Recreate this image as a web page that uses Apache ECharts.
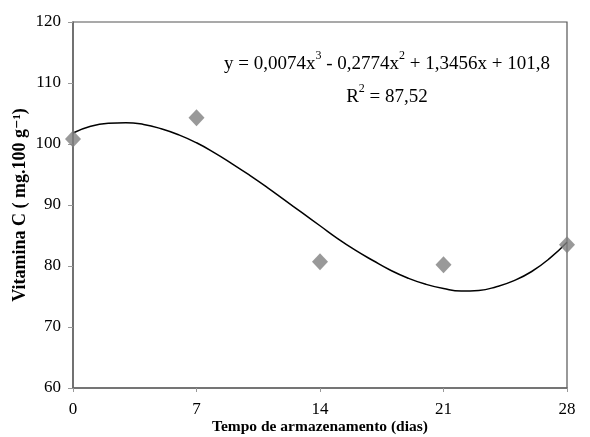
<!DOCTYPE html>
<html>
<head>
<meta charset="utf-8">
<script src="https://cdn.jsdelivr.net/npm/echarts@6/dist/echarts.min.js"></script>
<style>
  html, body { margin: 0; padding: 0; background: #fff; }
  #chart { width: 590px; height: 437px; }
</style>
</head>
<body>
<div id="chart"></div>
<script>
// observed points
const days = [0, 7, 14, 21, 28];
const vitaminC = [100.8, 104.3, 80.7, 80.2, 83.5];

// fitted curve, one value per day
const curveDays = [0, 1, 2, 3, 4, 5, 6, 7, 8, 9, 10, 11, 12, 13, 14, 15, 16, 17, 18, 19, 20, 21, 22, 23, 24, 25, 26, 27, 28];
const curveValues = [101.8, 102.9, 103.4, 103.5, 103.2, 102.5, 101.5, 100.2, 98.6, 96.8, 94.9, 92.9, 90.8, 88.7, 86.6, 84.5, 82.6, 80.9, 79.3, 78.0, 77.0, 76.3, 75.9, 76.0, 76.6, 77.6, 79.1, 81.2, 83.9];

const xTicks = [0, 7, 14, 21, 28];
const yTicks = [60, 70, 80, 90, 100, 110, 120];

const serif = '"Liberation Serif", "DejaVu Serif", serif';

const chart = echarts.init(document.getElementById('chart'));

const eqRich = {
    t: {fontFamily: serif, fontSize: 19, fill: '#000', verticalAlign: 'bottom', lineHeight: 24},
    s: {fontFamily: serif, fontSize: 12, fill: '#000', verticalAlign: 'top', lineHeight: 24, padding: [0, 0, 13, 0]}
};

chart.setOption({
    animation: false,
    grid: {
        left: 73,
        right: 23,
        top: 22,
        bottom: 49,
        containLabel: false,
        outerBoundsMode: 'none',
        show: true,
        borderColor: '#555',
        borderWidth: 1.2
    },
    xAxis: {
        type: 'value',
        min: xTicks[0],
        max: xTicks[xTicks.length - 1],
        interval: 7,
        name: 'Tempo de armazenamento (dias)',
        nameLocation: 'middle',
        nameGap: 31,
        nameMoveOverlap: false,
        nameTextStyle: {fontFamily: serif, fontWeight: 'bold', fontSize: 15.5, color: '#000'},
        axisLine: {lineStyle: {color: '#666', width: 1.5}},
        axisTick: {show: true, length: 4, lineStyle: {color: '#999'}},
        axisLabel: {fontFamily: serif, fontSize: 17, color: '#000', margin: 13},
        splitLine: {show: false}
    },
    yAxis: {
        type: 'value',
        min: yTicks[0],
        max: yTicks[yTicks.length - 1],
        interval: 10,
        name: 'Vitamina C ( mg.100 g⁻¹)',
        nameLocation: 'middle',
        nameGap: 44,
        nameMoveOverlap: false,
        nameTextStyle: {fontFamily: serif, fontWeight: 'bold', fontSize: 18, color: '#000'},
        axisLine: {show: true, lineStyle: {color: '#666', width: 1.5}},
        axisTick: {show: true, length: 5, lineStyle: {color: '#999'}},
        axisLabel: {fontFamily: serif, fontSize: 17, color: '#000', margin: 12},
        splitLine: {show: false}
    },
    series: [
        {
            name: 'Ajuste',
            type: 'line',
            data: curveDays.map((d, i) => [d, curveValues[i]]),
            smooth: true,
            showSymbol: false,
            lineStyle: {color: '#000', width: 1.5},
            z: 2
        },
        {
            name: 'Vitamina C',
            type: 'scatter',
            data: days.map((d, i) => [d, vitaminC[i]]),
            symbol: 'diamond',
            symbolSize: [16, 17],
            itemStyle: {color: '#808080'},
            z: 3
        }
    ],
    graphic: [
        {
            type: 'text',
            x: 387,
            y: 50,
            style: {
                text: '{t|y = 0,0074x}{s|3}{t| - 0,2774x}{s|2}{t| + 1,3456x + 101,8}',
                align: 'center',
                rich: eqRich
            }
        },
        {
            type: 'text',
            x: 387,
            y: 83,
            style: {
                text: '{t|R}{s|2}{t| = 87,52}',
                align: 'center',
                rich: eqRich
            }
        }
    ]
});
</script>
</body>
</html>
